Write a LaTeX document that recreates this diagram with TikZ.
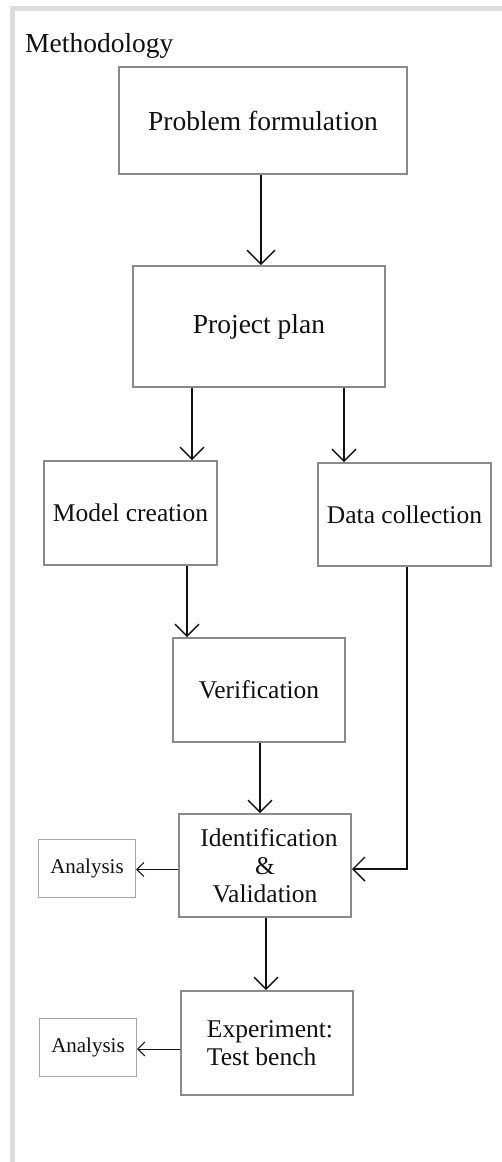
\documentclass[tikz,border=0pt]{standalone}
\usepackage{fontspec}
\setmainfont{Liberation Serif}
\usetikzlibrary{arrows.meta}
\definecolor{boxgray}{HTML}{8A8A8A}
\definecolor{smallgray}{HTML}{A6A6A6}
\definecolor{framegray}{HTML}{DDDDDD}
\definecolor{ink}{HTML}{111111}
\begin{document}
\begin{tikzpicture}[x=1pt,y=-1pt,
  stepbox/.style={draw=boxgray, line width=2pt, inner sep=0pt, align=center,
    text=ink, font=\fontsize{25.5}{28}\selectfont},
  bigbox/.style={stepbox, font=\fontsize{27.5}{30}\selectfont},
  notebox/.style={draw=smallgray, line width=1.2pt, inner sep=0pt,
    minimum width=97pt, minimum height=58pt, text=ink,
    font=\fontsize{21}{24}\selectfont},
  flow/.style={draw=ink, line width=1.4pt,
    -{Straight Barb[length=12pt, width=24pt, line width=1.4pt]}},
  topflow/.style={flow, -{Straight Barb[length=14pt, width=28pt, line width=1.4pt]}},
  sideflow/.style={draw=ink, line width=1pt,
    -{Straight Barb[length=7pt, width=14pt, line width=1pt]}}]
  % canvas and light frame along the top and left edges
  \useasboundingbox (0,0) rectangle (502,1162);
  \fill[white] (0,0) rectangle (502,1162);
  \fill[framegray] (10,6) rectangle (502,10.5);
  \fill[framegray] (10,6) rectangle (15,1162);

  % title
  \node[anchor=base west, inner sep=0pt, text=ink,
    font=\fontsize{27.5}{30}\selectfont] (title) at (25,52) {Methodology};

  % process steps
  \node[bigbox, minimum width=288pt, minimum height=107pt] (PF) at (263,120.5) {Problem formulation};
  \node[bigbox, minimum width=252pt, minimum height=121pt] (PP) at (259,326.5) {Project plan};
  \node[stepbox, minimum width=173pt, minimum height=104pt] (MC) at (130.5,513) {Model creation};
  \node[stepbox, minimum width=173pt, minimum height=103pt] (DC) at (404.5,514.5) {Data collection};
  \node[stepbox, minimum width=172pt, minimum height=104pt] (VE) at (259,690) {Verification};
  \node[stepbox, minimum width=172pt, minimum height=103pt] (IV) at (265,865.5) {\hspace*{8pt}Identification\\\&\\Validation};
  \node[stepbox, minimum width=172pt, minimum height=104pt, align=left] (EX) at (267,1043) {\hspace*{6pt}Experiment:\\\hspace*{6pt}Test bench};

  % side notes
  \node[notebox] (AN1) at (87,868.5) {Analysis};
  \node[notebox] (AN2) at (88,1047.5) {Analysis};

  % connectors
  \draw[topflow] ([xshift=-2pt]PF.south) coordinate (c0) -- (c0 |- PP.north);
  \draw[flow] ([xshift=-67pt]PP.south) coordinate (c1) -- (c1 |- MC.north);
  \draw[flow] ([xshift=85pt]PP.south) coordinate (c2) -- (c2 |- DC.north);
  \draw[flow] ([xshift=56.5pt]MC.south) coordinate (c3) -- (c3 |- VE.north);
  \draw[flow] ([xshift=1pt]VE.south) coordinate (c4) -- (c4 |- IV.north);
  \draw[flow] ([xshift=2.5pt]DC.south) |- ([yshift=-3.5pt]IV.east);
  \draw[flow] ([xshift=1pt]IV.south) coordinate (c5) -- (c5 |- EX.north);
  \draw[sideflow] ([yshift=-4pt]IV.west) coordinate (c6) -- (c6 -| AN1.east);
  \draw[sideflow] ([yshift=-6pt]EX.west) coordinate (c7) -- (c7 -| AN2.east);
\end{tikzpicture}
\end{document}
